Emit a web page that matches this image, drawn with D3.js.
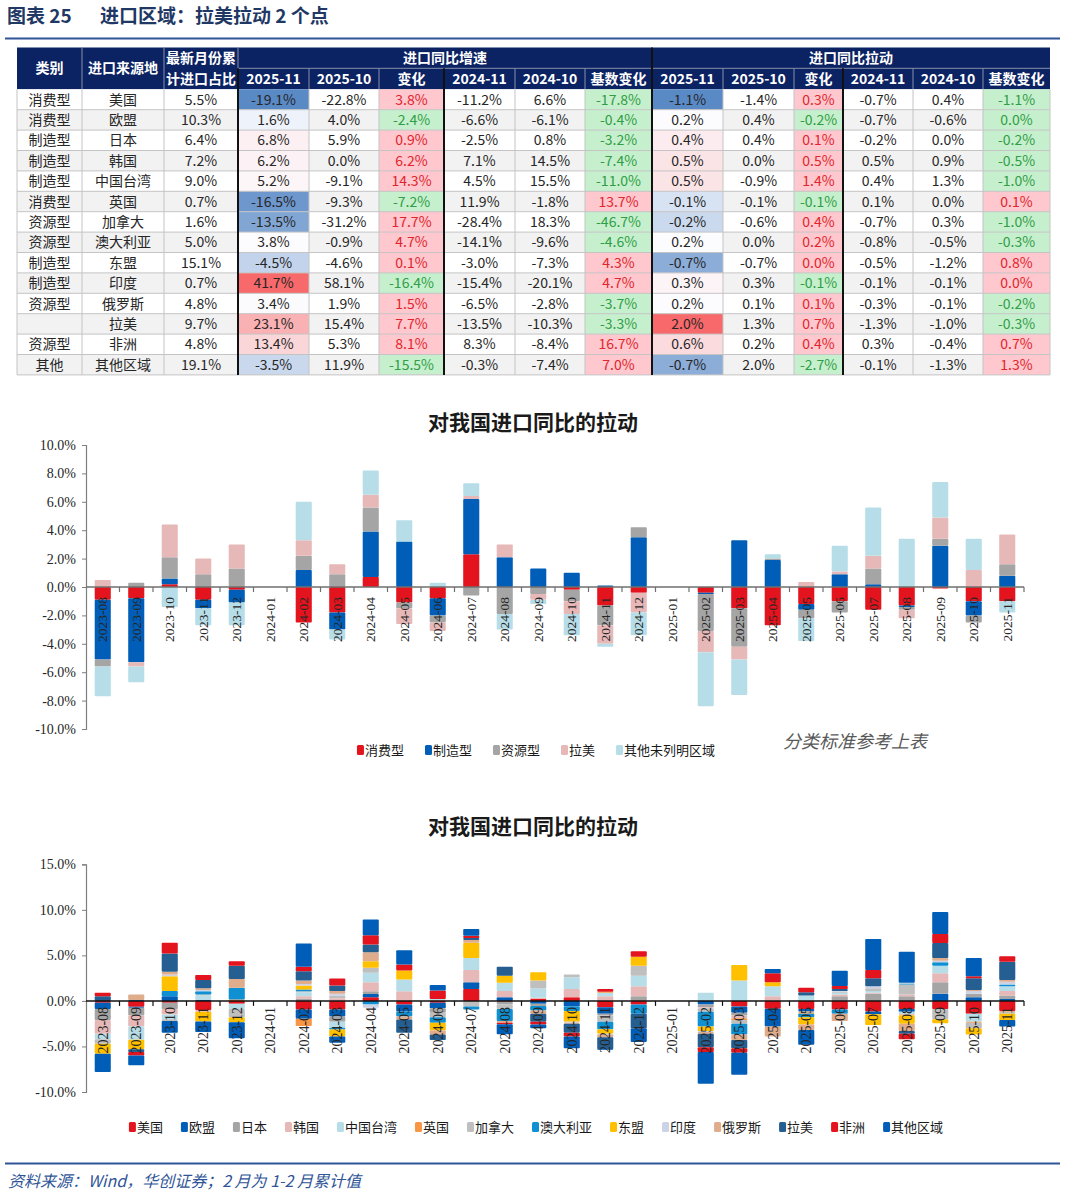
<!DOCTYPE html>
<html>
<head>
<meta charset="utf-8">
<script src="https://cdn.jsdelivr.net/npm/d3@7/dist/d3.min.js"></script>
<style>
  body { margin: 0; background: #fff; }
  svg { display: block; }
</style>
</head>
<body>
<div id="viz"></div>
<script>
// ---------- table data ----------
const regions = ['美国', '欧盟', '日本', '韩国', '中国台湾', '英国', '加拿大', '澳大利亚', '东盟', '印度', '俄罗斯', '拉美', '非洲', '其他区域'];
const regionType = ['消费型', '消费型', '制造型', '制造型', '制造型', '消费型', '资源型', '资源型', '制造型', '制造型', '资源型', '', '资源型', '其他'];
const importShare = [5.5, 10.3, 6.4, 7.2, 9.0, 0.7, 1.6, 5.0, 15.1, 0.7, 4.8, 9.7, 4.8, 19.1];
const growth2511 = [-19.1, 1.6, 6.8, 6.2, 5.2, -16.5, -13.5, 3.8, -4.5, 41.7, 3.4, 23.1, 13.4, -3.5];
const growth2510 = [-22.8, 4.0, 5.9, 0.0, -9.1, -9.3, -31.2, -0.9, -4.6, 58.1, 1.9, 15.4, 5.3, 11.9];
const growthChg = [3.8, -2.4, 0.9, 6.2, 14.3, -7.2, 17.7, 4.7, 0.1, -16.4, 1.5, 7.7, 8.1, -15.5];
const growth2411 = [-11.2, -6.6, -2.5, 7.1, 4.5, 11.9, -28.4, -14.1, -3.0, -15.4, -6.5, -13.5, 8.3, -0.3];
const growth2410 = [6.6, -6.1, 0.8, 14.5, 15.5, -1.8, 18.3, -9.6, -7.3, -20.1, -2.8, -10.3, -8.4, -7.4];
const growthBase = [-17.8, -0.4, -3.2, -7.4, -11.0, 13.7, -46.7, -4.6, 4.3, 4.7, -3.7, -3.3, 16.7, 7.0];
const pull2511 = [-1.1, 0.2, 0.4, 0.5, 0.5, -0.1, -0.2, 0.2, -0.7, 0.3, 0.2, 2.0, 0.6, -0.7];
const pull2510 = [-1.4, 0.4, 0.4, 0.0, -0.9, -0.1, -0.6, 0.0, -0.7, 0.3, 0.1, 1.3, 0.2, 2.0];
const pullChg = [0.3, -0.2, 0.1, 0.5, 1.4, -0.1, 0.4, 0.2, 0.0, -0.1, 0.1, 0.7, 0.4, -2.7];
const pull2411 = [-0.7, -0.7, -0.2, 0.5, 0.4, 0.1, -0.7, -0.8, -0.5, -0.1, -0.3, -1.3, 0.3, -0.1];
const pull2410 = [0.4, -0.6, 0.0, 0.9, 1.3, 0.0, 0.3, -0.5, -1.2, -0.1, -0.1, -1.0, -0.4, -1.3];
const pullBase = [-1.1, -0.0, -0.2, -0.5, -1.0, 0.1, -1.0, -0.3, 0.8, 0.0, -0.2, -0.3, 0.7, 1.3];

// ---------- chart data ----------
const months = ['2023-08', '2023-09', '2023-10', '2023-11', '2023-12', '2024-01', '2024-02', '2024-03', '2024-04', '2024-05',
  '2024-06', '2024-07', '2024-08', '2024-09', '2024-10', '2024-11', '2024-12', '2025-01', '2025-02', '2025-03',
  '2025-04', '2025-05', '2025-06', '2025-07', '2025-08', '2025-09', '2025-10', '2025-11'];

const groups = ['消费型', '制造型', '资源型', '拉美', '其他未列明区域'];
const consumerPull = [-0.9, -0.8, 0.2, -0.9, -0.2, null, -2.5, -1.8, 0.7, -1.1, -0.8, 2.3, 0.0, 0.0, -0.2, -1.3, -0.4, null, -0.4, -1.5, -2.7, -1.2, -1.0, -1.6, -1.3, -0.1, -1.0, -1.0];
const manufPull = [-4.2, -4.5, 0.4, -0.6, -0.9, null, 1.2, -1.2, 3.2, 3.2, -1.2, 3.9, 2.1, 1.3, 1.0, 0.1, 3.5, null, -0.1, 3.3, 1.9, -0.4, 0.9, 0.2, -0.1, 2.9, -1.0, 0.8];
const resourcePull = [-0.5, 0.3, 1.5, 0.9, 1.3, null, 1.0, 0.9, 1.7, -0.4, -0.5, -0.6, -1.9, -0.5, -0.8, -1.4, 0.7, null, -2.6, -2.7, 0.1, -0.6, -0.8, 1.1, -0.2, 0.5, -0.5, 0.8];
const latamPull = [0.5, -0.3, 2.3, 1.1, 1.7, null, 1.1, 0.7, 0.9, -1.1, -0.6, 0.2, 0.9, -0.4, -0.9, -1.3, -1.4, null, -1.5, -0.9, 0.0, 0.35, 0.2, 0.9, -0.6, 1.5, 1.2, 2.1];
const otherPull = [-2.1, -1.1, -1.4, -1.2, -1.6, null, 2.7, -0.7, 1.7, 1.5, 0.3, 0.9, -1.1, -0.3, -1.5, -0.2, -1.6, null, -3.8, -2.5, 0.3, -1.6, 1.8, 3.4, 3.4, 2.5, 2.2, -0.8];

const usPull = [-0.2, -0.65, -0.2, -1.0, -0.3, null, -0.95, -0.95, 0.4, -0.4, -0.2, 1.3, -0.1, 0.2, 0.4, -0.7, -0.4, null, 0.0, -0.6, -0.85, -0.9, -0.95, -1.15, -0.9, -0.9, -1.4, -1.1];
const euPull = [-0.7, -0.1, 0.5, 0.1, 0.0, null, -1.0, -0.75, 0.35, -0.75, -0.6, 0.75, 0.4, -0.3, -0.6, -0.7, 0.0, null, -0.4, -0.7, -1.95, -0.2, 0.0, -0.3, -0.3, 0.8, 0.4, 0.2];
const japanPull = [-1.2, -0.85, -0.7, 0.0, 0.0, null, 0.25, -0.6, 0.3, 0.0, -0.5, 0.0, -0.3, -0.25, 0.0, -0.2, 0.5, null, -0.3, -0.3, 0.0, -0.2, 0.5, 0.8, 0.5, 1.25, 0.4, 0.4];
const koreaPull = [-1.5, -1.2, -0.6, -0.2, 0.0, null, 0.25, 0.3, 1.0, 1.05, 0.1, 1.35, 0.7, 0.15, 0.9, 0.5, 1.1, null, -0.1, -0.3, 0.5, 0.0, 0.2, 0.1, 0.2, 1.0, 0.0, 0.5];
const taiwanPull = [-0.6, -1.45, -0.5, 0.5, -0.6, null, 0.45, -0.65, 1.05, 1.3, 0.1, 1.3, 0.9, 1.0, 1.3, 0.4, 1.15, null, 0.9, 2.25, 1.1, 0.6, 0.2, 0.2, -0.3, 0.8, -0.9, 0.5];
const ukPull = [0.0, 0.0, 0.0, 0.0, 0.15, null, -0.8, 0.0, 0.0, 0.0, 0.0, 0.0, 0.0, 0.0, 0.0, 0.1, 0.0, null, 0.0, -0.2, 0.0, -0.1, 0.0, 0.0, -0.1, 0.0, -0.1, -0.1];
const canadaPull = [-0.5, 0.0, -0.2, 0.1, -0.9, null, 0.1, 0.3, 0.55, 0.0, -0.5, -0.6, -0.5, 0.9, 0.3, -0.7, 1.1, null, -0.4, -0.4, 0.0, 0.0, 0.1, 0.3, 1.1, -1.1, -0.6, -0.2];
const australiaPull = [0.0, 0.1, 0.6, 0.35, 1.3, null, 0.2, -0.2, -0.4, -0.55, -0.6, -0.35, -1.3, -0.5, -0.5, -0.8, -1.0, null, -1.6, -1.2, 0.0, -0.4, -0.45, 0.0, 0.1, 0.4, 0.0, 0.2];
const aseanPull = [-1.1, -1.05, 1.6, -1.05, -0.55, null, 0.45, -0.75, 0.7, 1.0, -0.85, 1.7, 0.75, 0.9, -1.2, -0.5, 1.0, null, -0.5, 1.7, 0.45, -0.8, 0.0, -1.2, -0.9, -0.45, -0.7, -0.7];
const indiaPull = [0.0, 0.0, 0.2, 0.15, 0.0, null, 0.15, 0.2, -0.35, 0.0, 0.0, 0.0, 0.0, 0.0, -0.1, -0.1, 0.0, null, -0.1, 0.0, 0.0, 0.0, 0.1, 0.2, 0.1, 0.15, 0.3, 0.3];
const russiaPull = [0.0, 0.6, 0.3, 0.2, 0.95, null, 0.4, 0.3, 1.0, -0.35, -0.45, 0.3, -0.2, -0.35, -0.1, -0.3, 0.0, null, -0.2, -0.6, -1.1, -0.6, -0.8, 0.0, -0.8, 0.3, 0.1, 0.2];
const latinPull = [0.5, -0.3, 2.0, 0.9, 1.45, null, 1.0, 0.6, 0.85, -1.45, -0.6, 0.2, 1.0, -0.9, -1.0, -1.3, -1.6, null, -1.5, -0.9, 0.0, 0.35, 0.2, 0.9, -0.3, 1.65, 1.3, 2.0];
const africaPull = [0.4, -0.4, 1.2, 0.55, 0.5, null, 0.5, 0.75, 1.0, 0.65, 0.95, 0.25, -0.15, -0.3, -0.4, 0.3, 0.6, null, -0.5, -0.5, 1.0, 0.5, 0.35, 0.9, -0.6, 1.0, 0.2, 0.6];
const restPull = [-2.0, -1.05, -1.3, -1.15, -1.75, null, 2.55, -0.7, 1.75, 1.55, 0.6, 0.75, -1.1, -0.4, -1.3, -0.1, -1.5, null, -3.5, -2.4, 0.45, -1.6, 1.65, 3.4, 3.4, 2.4, 2.0, -0.7];

const axisTicks1 = [-10, -8, -6, -4, -2, 0, 2, 4, 6, 8, 10];
const axisTicks2 = [-10, -5, 0, 5, 10, 15];

// ---------- styles ----------
const groupColors = ['#e3141d', '#005eb8', '#a5a5a5', '#e6b9b8', '#b7dee8'];
const regionColors = ['#e3141d', '#005eb8', '#a5a5a5', '#e6b9b8', '#b7dee8', '#f79646', '#bfbfbf', '#0e90d2',
  '#ffc000', '#ccd3e6', '#dfac8c', '#255e91', '#e3141d', '#005eb8'];
const cjk = '"Noto Sans CJK SC", "Microsoft YaHei", sans-serif';
const serif = '"Liberation Serif", "Times New Roman", serif';

const pct = v => (v < 0 ? '-' : '') + Math.abs(v).toFixed(1) + '%';
const isNeg = v => v < 0 || Object.is(v, -0);

const W = 1066, H = 1194;
const svg = d3.select('#viz').append('svg').attr('width', W).attr('height', H);

// ---------- page title ----------
svg.append('text').attr('x', 7).attr('y', 23).text('图表 25')
  .attr('font-family', cjk).attr('font-weight', 700).attr('font-size', 19).attr('fill', '#1f3864');
svg.append('text').attr('x', 100).attr('y', 23).text('进口区域：拉美拉动 2 个点')
  .attr('font-family', cjk).attr('font-weight', 700).attr('font-size', 19).attr('fill', '#1f3864');
svg.append('line').attr('x1', 5).attr('x2', 1060).attr('y1', 38.5).attr('y2', 38.5)
  .attr('stroke', '#2f5597').attr('stroke-width', 2);

// ---------- table ----------
const edges = [17, 82, 164, 238, 309, 379, 444, 515, 585, 652, 723, 794, 843, 913, 983, 1050];
const hTop = 47.5, hMid = 68.3, hBot = 89.3, rowH = 20.4;
const table = svg.append('g');

const cols = [
  { head: '2025-11', values: growth2511, kind: 'heat' },
  { head: '2025-10', values: growth2510, kind: 'plain' },
  { head: '变化', values: growthChg, kind: 'sign' },
  { head: '2024-11', values: growth2411, kind: 'plain' },
  { head: '2024-10', values: growth2410, kind: 'plain' },
  { head: '基数变化', values: growthBase, kind: 'sign' },
  { head: '2025-11', values: pull2511, kind: 'heat' },
  { head: '2025-10', values: pull2510, kind: 'plain' },
  { head: '变化', values: pullChg, kind: 'sign' },
  { head: '2024-11', values: pull2411, kind: 'plain' },
  { head: '2024-10', values: pull2410, kind: 'plain' },
  { head: '基数变化', values: pullBase, kind: 'sign' }
];
cols.forEach(c => {
  if (c.kind === 'heat') {
    c.color = d3.scaleLinear()
      .domain([d3.min(c.values), d3.median(c.values), d3.max(c.values)])
      .range(['#5a8ac6', '#fcfcff', '#f8696b']);
  }
});

// header
table.append('rect').attr('x', edges[0]).attr('y', hTop).attr('width', edges[15] - edges[0]).attr('height', hBot - hTop)
  .attr('fill', '#0b2263');
const headText = (x, y, t) => table.append('text').attr('x', x).attr('y', y).attr('dy', '0.36em')
  .attr('text-anchor', 'middle').attr('font-family', cjk).attr('font-weight', 700).attr('font-size', 14)
  .attr('fill', '#fff').text(t);
const mid = (a, b) => (a + b) / 2;
headText(mid(edges[0], edges[1]), mid(hTop, hBot), '类别');
headText(mid(edges[1], edges[2]), mid(hTop, hBot), '进口来源地');
headText(mid(edges[2], edges[3]), mid(hTop, hMid), '最新月份累');
headText(mid(edges[2], edges[3]), mid(hMid, hBot), '计进口占比');
headText(mid(edges[3], edges[9]), mid(hTop, hMid), '进口同比增速');
headText(mid(edges[9], edges[15]), mid(hTop, hMid), '进口同比拉动');
cols.forEach((c, i) => headText(mid(edges[i + 3], edges[i + 4]), mid(hMid, hBot), c.head));
const sep = '#8791ab';
[1, 2, 3].forEach(i => table.append('line').attr('x1', edges[i]).attr('x2', edges[i]).attr('y1', hTop).attr('y2', hBot).attr('stroke', sep));
d3.range(4, 15).forEach(i => table.append('line').attr('x1', edges[i]).attr('x2', edges[i]).attr('y1', hMid).attr('y2', hBot).attr('stroke', sep));
table.append('line').attr('x1', edges[3]).attr('x2', edges[15]).attr('y1', hMid).attr('y2', hMid).attr('stroke', sep);

// body
regions.forEach((reg, r) => {
  const y0 = hBot + r * rowH;
  const base = r % 2 ? '#f2f2f2' : '#ffffff';
  const cells = [
    { text: regionType[r], fill: base, color: '#262626' },
    { text: reg, fill: base, color: '#262626' },
    { text: pct(importShare[r]), fill: base, color: '#262626' }
  ];
  cols.forEach(c => {
    const v = c.values[r];
    let fill = base, color = '#262626';
    if (c.kind === 'heat') fill = c.color(v);
    if (c.kind === 'sign') {
      fill = isNeg(v) ? '#c6efce' : '#ffc7ce';
      color = isNeg(v) ? '#2f9e44' : '#e0262c';
    }
    cells.push({ text: pct(v), fill, color });
  });
  cells.forEach((cell, c) => {
    table.append('rect').attr('x', edges[c]).attr('y', y0).attr('width', edges[c + 1] - edges[c]).attr('height', rowH)
      .attr('fill', cell.fill);
    table.append('text').attr('x', mid(edges[c], edges[c + 1])).attr('y', y0 + rowH / 2).attr('dy', '0.36em')
      .attr('text-anchor', 'middle').attr('font-family', cjk).attr('font-size', 14).attr('fill', cell.color)
      .text(cell.text);
  });
});
const tBottom = hBot + regions.length * rowH;
d3.range(1, regions.length + 1).forEach(r => table.append('line')
  .attr('x1', edges[0]).attr('x2', edges[15]).attr('y1', hBot + r * rowH).attr('y2', hBot + r * rowH)
  .attr('stroke', '#c4c4c4'));
edges.forEach(x => table.append('line').attr('x1', x).attr('x2', x).attr('y1', hBot).attr('y2', tBottom)
  .attr('stroke', '#c4c4c4'));
[[3, hMid], [6, hMid], [9, hTop], [12, hMid]].forEach(([i, yTop]) => table.append('line')
  .attr('x1', edges[i]).attr('x2', edges[i]).attr('y1', yTop).attr('y2', tBottom)
  .attr('stroke', '#111').attr('stroke-width', 2));

// ---------- stacked charts ----------
function drawStacked(opt) {
  const g = svg.append('g');
  const x = d3.scaleBand().domain(months).range([86, 1024]).paddingInner(0.52).paddingOuter(0.26);
  const y = d3.scaleLinear().domain(opt.domain).range(opt.range);
  const rows = months.map((m, i) => {
    const o = { month: m };
    opt.keys.forEach((k, j) => { o[k] = opt.series[j][i]; });
    return o;
  });
  const stacked = d3.stack().keys(opt.keys).value((d, k) => d[k] ?? 0).offset(d3.stackOffsetDiverging)(rows);

  g.append('text').attr('x', 533).attr('y', opt.titleY).attr('dy', '0.36em').attr('text-anchor', 'middle')
    .attr('font-family', cjk).attr('font-weight', 700).attr('font-size', 21).attr('fill', '#1a1a1a')
    .text('对我国进口同比的拉动');

  g.selectAll('g.layer').data(stacked).join('g').attr('class', 'layer')
    .attr('fill', (d, i) => opt.colors[i])
    .selectAll('rect').data(d => d.filter(s => s[1] !== s[0])).join('rect')
    .attr('x', d => x(d.data.month))
    .attr('width', x.bandwidth())
    .attr('y', d => y(Math.max(d[0], d[1])))
    .attr('height', d => Math.abs(y(d[0]) - y(d[1])))
    .attr('rx', 1);

  // y axis
  const ya = g.append('g').attr('transform', 'translate(86,0)')
    .call(d3.axisLeft(y).tickValues(opt.ticks).tickFormat(pct).tickSize(4).tickSizeOuter(4).tickPadding(6));
  ya.select('.domain').attr('stroke', '#7f7f7f').attr('stroke-width', 1.2);
  ya.selectAll('.tick line').attr('stroke', '#7f7f7f');
  ya.selectAll('.tick text').attr('font-family', serif).attr('font-size', 14).attr('fill', '#262626');

  // x axis at zero
  const y0 = y(0);
  g.append('line').attr('x1', x.range()[0]).attr('x2', x.range()[1]).attr('y1', y0).attr('y2', y0)
    .attr('stroke', opt.axisColor).attr('stroke-width', 1.5);
  g.selectAll('line.xtick').data(months).join('line').attr('class', 'xtick')
    .attr('x1', d => x(d) + x.bandwidth() + (x.step() - x.bandwidth()) / 2)
    .attr('x2', d => x(d) + x.bandwidth() + (x.step() - x.bandwidth()) / 2)
    .attr('y1', y0).attr('y2', y0 + 5).attr('stroke', opt.axisColor).attr('stroke-width', 1.2);
  g.selectAll('text.xlab').data(months).join('text').attr('class', 'xlab')
    .attr('transform', d => `translate(${x(d) + x.bandwidth() / 2},${y0 + opt.labelGap}) rotate(-90)`)
    .attr('text-anchor', 'end').attr('dy', '0.35em')
    .attr('font-family', serif).attr('font-size', opt.labelSize).attr('fill', '#262626')
    .text(d => d);

  // legend
  const lg = g.append('g');
  let cx = 0;
  opt.keys.forEach((k, i) => {
    lg.append('rect').attr('x', cx).attr('y', -5).attr('width', 7).attr('height', 10).attr('rx', 1.5)
      .attr('fill', opt.colors[i]);
    const t = lg.append('text').attr('x', cx + 8).attr('y', 0).attr('dy', '0.36em')
      .attr('font-family', cjk).attr('font-size', 13).attr('fill', '#1a1a1a').text(k);
    cx += 8 + t.node().getComputedTextLength() + opt.legendGap;
  });
  cx -= opt.legendGap;
  lg.attr('transform', `translate(${opt.legendCenter - cx / 2},${opt.legendY})`);
  return g;
}

drawStacked({
  keys: groups,
  series: [consumerPull, manufPull, resourcePull, latamPull, otherPull],
  colors: groupColors,
  domain: [-10, 10], range: [729, 445], ticks: axisTicks1,
  titleY: 422, axisColor: '#6f6f6f', labelGap: 10, labelSize: 13.5,
  legendY: 750, legendCenter: 536, legendGap: 21
});

svg.append('text').attr('x', 783).attr('y', 742).attr('dy', '0.36em')
  .attr('font-family', cjk).attr('font-style', 'italic').attr('font-size', 18).attr('fill', '#595959')
  .text('分类标准参考上表');

drawStacked({
  keys: regions,
  series: [usPull, euPull, japanPull, koreaPull, taiwanPull, ukPull, canadaPull, australiaPull, aseanPull,
    indiaPull, russiaPull, latinPull, africaPull, restPull],
  colors: regionColors,
  domain: [-10, 15], range: [1092, 864.3], ticks: axisTicks2,
  titleY: 826, axisColor: '#111', labelGap: 6, labelSize: 14,
  legendY: 1127, legendCenter: 536, legendGap: 18
});

// ---------- footer ----------
svg.append('line').attr('x1', 5).attr('x2', 1060).attr('y1', 1163.5).attr('y2', 1163.5)
  .attr('stroke', '#2f5597').attr('stroke-width', 2);
svg.append('text').attr('x', 8).attr('y', 1181).attr('dy', '0.36em')
  .attr('font-family', cjk).attr('font-style', 'italic').attr('font-size', 16).attr('fill', '#2f5597')
  .text('资料来源：Wind，华创证券；2 月为 1-2 月累计值');
</script>
</body>
</html>
